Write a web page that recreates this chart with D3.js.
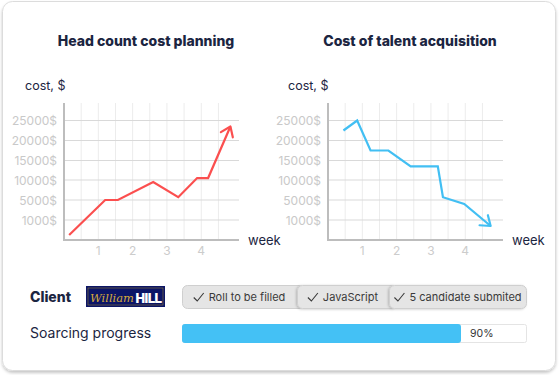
<!DOCTYPE html>
<html>
<head>
<meta charset="utf-8">
<script src="https://cdn.jsdelivr.net/npm/d3@7/dist/d3.min.js"></script>
<style>
  body { margin: 0; background: #fff; }
  svg { display: block; font-family: "Inter", "Roboto", sans-serif; }
</style>
</head>
<body>
<div id="card"></div>
<script>
// ---- data ----
var yTicks = [1000, 5000, 10000, 15000, 20000, 25000];
var xTicks = [1, 2, 3, 4];

var headWeeks = [0.15, 1.2, 1.57, 2.6, 3.33, 3.88, 4.2, 4.85];
var headCost  = [250, 5000, 5000, 9500, 5700, 10500, 10500, 23500];

var talentWeeks = [0.45, 0.85, 1.24, 1.76, 2.41, 3.2, 3.35, 3.97, 4.74];
var talentCost  = [22500, 25000, 17500, 17500, 13500, 13500, 5700, 4200, 700];

var tags = ["Roll to be filled", "JavaScript", "5 candidate submited"];
var progress = 90;

// ---- layout ----
var W = 560, H = 375;
var navy = "#1b2541";

var svg = d3.select("#card").append("svg")
    .attr("width", W)
    .attr("height", H);

var defs = svg.append("defs");
var shadow = defs.append("filter").attr("id", "shadow")
    .attr("x", "-5%").attr("y", "-5%").attr("width", "110%").attr("height", "115%");
shadow.append("feDropShadow")
    .attr("dx", 0).attr("dy", 2).attr("stdDeviation", 1.5)
    .attr("flood-color", "#000").attr("flood-opacity", 0.22);

var tagShadow = defs.append("filter").attr("id", "tagShadow")
    .attr("x", "-10%").attr("y", "-20%").attr("width", "120%").attr("height", "140%");
tagShadow.append("feDropShadow")
    .attr("dx", -1).attr("dy", 0.5).attr("stdDeviation", 1)
    .attr("flood-color", "#000").attr("flood-opacity", 0.2);

//card background
svg.append("rect")
    .attr("x", 2.5).attr("y", 1.5)
    .attr("width", 553).attr("height", 369)
    .attr("rx", 10)
    .attr("fill", "#fff")
    .attr("stroke", "#dcdcdc")
    .attr("filter", "url(#shadow)");

/**
 * Draws one small line chart with its grid, axes and labels
 */
function drawChart(opts) {
    var g = svg.append("g");
    var x0 = opts.left, x1 = opts.left + 175;
    var yBottom = 240, yTop = 103;

    var xScale = d3.scaleLinear().domain([0, 5.1]).range([x0, x1]);
    var yScale = d3.scaleLinear()
        .domain([0, 1000, 5000, 10000, 15000, 20000, 25000])
        .range([240, 220, 200, 180, 160.5, 140.5, 120.5]);

    var arrowId = "arrow" + opts.id;
    defs.append("marker")
        .attr("id", arrowId)
        .attr("markerUnits", "userSpaceOnUse")
        .attr("viewBox", "-12 -10 14 20")
        .attr("markerWidth", 14).attr("markerHeight", 20)
        .attr("refX", 0).attr("refY", 0)
        .attr("orient", "auto")
        .append("path")
        .attr("d", "M-9,-6.5L0,0L-9,6.5")
        .attr("fill", "none")
        .attr("stroke", opts.color)
        .attr("stroke-width", 2.2)
        .attr("stroke-linecap", "round")
        .attr("stroke-linejoin", "round");

    //title
    g.append("text")
        .attr("x", opts.titleX).attr("y", 45.5)
        .attr("text-anchor", "middle")
        .attr("font-size", 14).attr("font-weight", 800)
        .attr("fill", navy)
        .text(opts.title);

    g.append("text")
        .attr("x", opts.costX).attr("y", 90)
        .attr("font-size", 12.5)
        .attr("fill", navy)
        .text("cost, $");

    //vertical grid every half week
    var halfWeeks = d3.range(0.5, 5, 0.5);
    g.selectAll("line.vgrid").data(halfWeeks).enter().append("line")
        .attr("class", "vgrid")
        .attr("x1", function(d) { return xScale(d); })
        .attr("x2", function(d) { return xScale(d); })
        .attr("y1", yTop).attr("y2", yBottom)
        .attr("stroke", "#ececec").attr("stroke-width", 1);

    g.selectAll("line.hgrid").data(yTicks).enter().append("line")
        .attr("class", "hgrid")
        .attr("x1", x0).attr("x2", x1)
        .attr("y1", function(d) { return yScale(d); })
        .attr("y2", function(d) { return yScale(d); })
        .attr("stroke", "#d9d9d9").attr("stroke-width", 1);

    //axes
    g.append("line")
        .attr("x1", x0).attr("x2", x0)
        .attr("y1", yTop).attr("y2", yBottom)
        .attr("stroke", "#bdbdbd").attr("stroke-width", 2);
    g.append("line")
        .attr("x1", x0 - 1).attr("x2", x1)
        .attr("y1", yBottom).attr("y2", yBottom)
        .attr("stroke", "#bdbdbd").attr("stroke-width", 2);

    g.selectAll("text.ylab").data(yTicks).enter().append("text")
        .attr("class", "ylab")
        .attr("x", x0 - 7)
        .attr("y", function(d) { return yScale(d) + 4.5; })
        .attr("text-anchor", "end")
        .attr("font-size", 12)
        .attr("fill", "#c9c9c9")
        .text(function(d) { return d + "$"; });

    g.selectAll("text.xlab").data(xTicks).enter().append("text")
        .attr("class", "xlab")
        .attr("x", function(d) { return xScale(d); })
        .attr("y", 255)
        .attr("text-anchor", "middle")
        .attr("font-size", 12)
        .attr("fill", "#cccccc")
        .text(function(d) { return d; });

    g.append("text")
        .attr("x", x1 + 9).attr("y", 245)
        .attr("font-size", 13)
        .attr("fill", navy)
        .text("week");

    var pts = opts.weeks.map(function(w, i) { return [w, opts.cost[i]]; });
    var line = d3.line()
        .x(function(d) { return xScale(d[0]); })
        .y(function(d) { return yScale(d[1]); });

    g.append("path")
        .datum(pts)
        .attr("d", line)
        .attr("fill", "none")
        .attr("stroke", opts.color)
        .attr("stroke-width", 2.2)
        .attr("stroke-linejoin", "miter")
        .attr("marker-end", "url(#" + arrowId + ")");
}

drawChart({id: 1, left: 64, title: "Head count cost planning", titleX: 146, costX: 25,
    weeks: headWeeks, cost: headCost, color: "#fb4f4f"});
drawChart({id: 2, left: 328, title: "Cost of talent acquisition", titleX: 410, costX: 288,
    weeks: talentWeeks, cost: talentCost, color: "#42bff3"});

// ---- bottom part ----
svg.append("text")
    .attr("x", 30).attr("y", 302)
    .attr("font-size", 14).attr("font-weight", 800)
    .attr("fill", navy)
    .text("Client");

//logo
var logo = svg.append("g");
logo.append("rect")
    .attr("x", 86).attr("y", 286)
    .attr("width", 79).attr("height", 21)
    .attr("fill", "#0c1566");
logo.append("rect")
    .attr("x", 88).attr("y", 288)
    .attr("width", 75).attr("height", 17)
    .attr("fill", "none")
    .attr("stroke", "#8a7a3a").attr("stroke-width", 0.6);
logo.append("text")
    .attr("x", 90).attr("y", 302)
    .attr("font-family", "'DejaVu Serif', serif")
    .attr("font-style", "italic")
    .attr("font-size", 11.5)
    .attr("fill", "#d4a93c")
    .attr("textLength", 44)
    .text("William");
logo.append("text")
    .attr("x", 135).attr("y", 302.5)
    .attr("font-family", "'Liberation Sans Narrow', 'DejaVu Sans Condensed', sans-serif")
    .attr("font-weight", 700)
    .attr("font-size", 14)
    .attr("fill", "#fff")
    .attr("textLength", 27)
    .text("HILL");

//tags: each later segment overlaps the end of the previous one
var tagEdges = [182, 297, 389, 527];
var tagG = svg.selectAll("g.tag").data(tags).enter().append("g")
    .attr("class", "tag");

tagG.append("rect")
    .attr("x", function(d, i) { return tagEdges[i] + 0.5; })
    .attr("y", 285.5)
    .attr("width", function(d, i) {
        var extra = i < tags.length - 1 ? 8 : 0;
        return tagEdges[i + 1] - tagEdges[i] - 1 + extra;
    })
    .attr("height", 23)
    .attr("rx", 5)
    .attr("fill", "#e5e5e5")
    .attr("stroke", "#cfcfcf")
    .attr("filter", function(d, i) { return i > 0 ? "url(#tagShadow)" : null; });

tagG.each(function(d, i) {
    var g = d3.select(this);
    var t = g.append("text")
        .attr("y", 301)
        .attr("font-size", 11)
        .attr("fill", "#3a3a3a")
        .text(d);
    var tw = t.node().getComputedTextLength();
    var total = 10 + 5 + tw;
    var cx = (tagEdges[i] + tagEdges[i + 1]) / 2;
    var start = cx - total / 2;
    t.attr("x", start + 15);
    g.append("path")
        .attr("d", "M" + start + ",297.5L" + (start + 3.5) + ",301L" + (start + 10) + ",293")
        .attr("fill", "none")
        .attr("stroke", "#3a3a3a")
        .attr("stroke-width", 1.1);
});

//progress
svg.append("text")
    .attr("x", 30).attr("y", 337.5)
    .attr("font-size", 14)
    .attr("fill", navy)
    .text("Soarcing progress");

var pScale = d3.scaleLinear().domain([0, 100]).range([182, 492]);

svg.append("rect")
    .attr("x", 182.5).attr("y", 324.5)
    .attr("width", 344).attr("height", 18)
    .attr("rx", 2)
    .attr("fill", "#fff")
    .attr("stroke", "#e4e4e4");

svg.append("rect")
    .attr("x", pScale(0)).attr("y", 324)
    .attr("width", pScale(progress) - pScale(0)).attr("height", 19)
    .attr("rx", 3)
    .attr("fill", "#44c1f5");

svg.append("text")
    .attr("x", pScale(progress) + 9).attr("y", 337)
    .attr("font-size", 10.5)
    .attr("fill", "#333")
    .text(progress + "%");
</script>
</body>
</html>
